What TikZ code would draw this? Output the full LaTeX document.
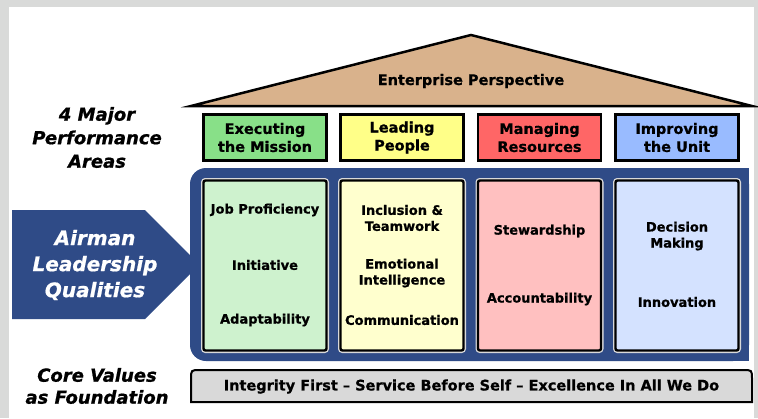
\documentclass[tikz,border=0pt]{standalone}
\usepackage{fontspec}
\setmainfont{DejaVu Sans}[BoldFeatures={FakeBold=0.8},BoldItalicFeatures={FakeBold=0.8}]
\definecolor{framegray}{RGB}{217,218,217}
\definecolor{rooftan}{RGB}{217,178,140}
\definecolor{panelblue}{RGB}{47,75,135}
\definecolor{gTop}{RGB}{136,224,136}
\definecolor{gIn}{RGB}{206,242,206}
\definecolor{yTop}{RGB}{255,255,136}
\definecolor{yIn}{RGB}{255,255,206}
\definecolor{rTop}{RGB}{255,102,102}
\definecolor{rIn}{RGB}{255,192,192}
\definecolor{bTop}{RGB}{153,187,255}
\definecolor{bIn}{RGB}{212,226,255}
\definecolor{barGray}{RGB}{217,217,217}
\tikzset{
  topbox/.style={draw=black, line width=2.6pt, minimum width=123pt, minimum height=46pt,
    inner sep=0pt, align=center, font=\fontsize{14.5}{18}\selectfont\bfseries},
  qualbox/.style={draw=black, line width=2.4pt, minimum width=123pt, minimum height=170pt,
    inner sep=0pt, rounded corners=2pt, preaction={draw=gray!30, line width=5pt}},
  itemtext/.style={font=\fontsize{13}{16}\selectfont\bfseries, align=center, inner sep=0pt},
  sidelabel/.style={font=\fontsize{18}{23.5}\selectfont\bfseries\itshape, align=center, inner sep=0pt},
}
\begin{document}
\begin{tikzpicture}[x=1pt,y=-1pt]
\useasboundingbox (0,0) rectangle (758,418);
% frame
\fill[framegray] (0,0) rectangle (758,418);
\fill[white] (9,7) rectangle (754,418);
% roof
\draw[fill=rooftan, line width=2.5pt, line join=miter] (191,106) -- (471,35) -- (752,106) -- cycle;
\node[font=\fontsize{14.5}{18}\selectfont\bfseries] (roof) at (471,81) {Enterprise Perspective};
% side labels
\node[sidelabel] (areas) at (97,137.5) {4 Major\\Performance\\Areas};
\node[sidelabel, font=\fontsize{18}{22}\selectfont\bfseries\itshape] (core) at (97,386) {Core Values\\as Foundation};
% arrow
\fill[panelblue] (12,210) -- (145,210) -- (199.5,264.5) -- (145,319) -- (12,319) -- cycle;
\node[font=\fontsize{20}{26}\selectfont\bfseries\itshape, text=white, align=center, inner sep=0pt] (alq) at (95,265) {Airman\\Leadership\\Qualities};
% panel
\fill[panelblue, rounded corners=16pt] (190,168) rectangle (749,361);
\fill[panelblue] (400,168) rectangle (749,361);
% top boxes
\node[topbox, fill=gTop] (exec) at (265,137.5) {Executing\\the Mission};
\node[topbox, fill=yTop] (lead) at (402,137.5) {Leading\\People};
\node[topbox, fill=rTop] (manage) at (539.5,137.5) {Managing\\Resources};
\node[topbox, fill=bTop] (improve) at (677,137.5) {Improving\\the Unit};
% quality boxes
\node[qualbox, fill=gIn] (q1) at (265,265.5) {};
\node[qualbox, fill=yIn] (q2) at (402,265.5) {};
\node[qualbox, fill=rIn] (q3) at (539.5,265.5) {};
\node[qualbox, fill=bIn] (q4) at (677,265.5) {};
% column 1
\node[itemtext] (job) at (265,210) {Job Proficiency};
\node[itemtext] (init) at (265,265) {Initiative};
\node[itemtext] (adapt) at (265,320) {Adaptability};
% column 2
\node[itemtext] (incl) at (402,218) {Inclusion \&\\Teamwork};
\node[itemtext] (emot) at (402,273) {Emotional\\Intelligence};
\node[itemtext] (comm) at (402,320) {Communication};
% column 3
\node[itemtext] (stew) at (539.5,231) {Stewardship};
\node[itemtext] (acct) at (539.5,299) {Accountability};
% column 4
\node[itemtext] (dec) at (677,236) {Decision\\Making};
\node[itemtext] (innov) at (677,302) {Innovation};
% foundation bar
\draw[fill=barGray, line width=2pt] (191,402) -- (191,379) .. controls (191,370) .. (200,370) -- (743,370) .. controls (752,370) .. (752,379) -- (752,402) -- cycle;
\node[font=\fontsize{14.5}{18}\selectfont\bfseries, inner sep=0pt] (values) at (471.5,386.5) {Integrity First – Service Before Self – Excellence In All We Do};
\end{tikzpicture}
\end{document}
